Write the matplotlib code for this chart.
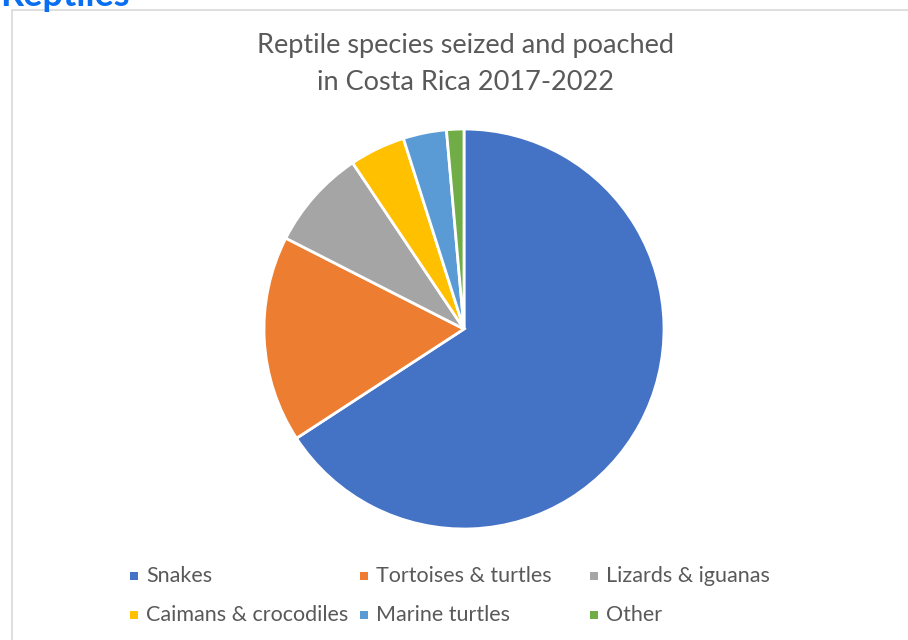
import matplotlib
matplotlib.use("Agg")
import matplotlib.pyplot as plt
from matplotlib.patches import Rectangle

# Reptile seizures in Costa Rica 2017-2022 (share of total, %)
labels = ["Snakes", "Tortoises & turtles", "Lizards & iguanas",
          "Caimans & crocodiles", "Marine turtles", "Other"]
shares = [65.8, 16.7, 8.1, 4.5, 3.5, 1.4]
colors = ["#4472C4", "#ED7D31", "#A5A5A5", "#FFC000", "#5B9BD5", "#70AD47"]

W, H = 908, 640
plt.rcParams['font.family'] = ['Lato', 'DejaVu Sans']
fig = plt.figure(figsize=(W / 100, H / 100), dpi=100)
fig.patch.set_facecolor("white")


def fx(px):
    return px / W


def fy(py):
    # py measured from the top of the image
    return 1 - py / H


# chart frame (runs off the right and bottom edges)
fig.add_artist(Rectangle((fx(12), fy(650)), fx(920), 640 / H,
                         transform=fig.transFigure, fill=False,
                         edgecolor="#d9d9d9", linewidth=1.2))

# cut-off section heading above the chart
fig.text(fx(0), fy(6), "Reptiles", color="#0a6ef0", fontsize=26,
         fontweight="bold", va="baseline", ha="left")

fig.text(fx(465), fy(46), "Reptile species seized and poached",
         ha="center", va="center", fontsize=19.5, color="#595959")
fig.text(fx(465), fy(82), "in Costa Rica 2017-2022",
         ha="center", va="center", fontsize=19.5, color="#595959")

# pie: centre (464, 329), radius ~201 px
ax = fig.add_axes([fx(263), fy(530), fx(402), 402 / H])
ax.pie(shares, colors=colors, startangle=90, counterclock=False,
       radius=1, wedgeprops=dict(edgecolor="white", linewidth=2))
ax.set_xlim(-1.005, 1.005)
ax.set_ylim(-1.005, 1.005)
ax.set_aspect("equal")
ax.axis("off")

# legend, 3 columns x 2 rows
col_x = [130, 360, 590]
row_y = [576, 615]
for i, (lab, c) in enumerate(zip(labels, colors)):
    x = col_x[i % 3]
    y = row_y[i // 3]
    fig.add_artist(Rectangle((fx(x), fy(y + 4)), fx(8), 8 / H,
                             transform=fig.transFigure, facecolor=c,
                             edgecolor="none"))
    fig.text(fx(x + 16), fy(y), lab, ha="left", va="center",
             fontsize=15.5, color="#595959")

fig.savefig("out.png", dpi=100, facecolor="white")
